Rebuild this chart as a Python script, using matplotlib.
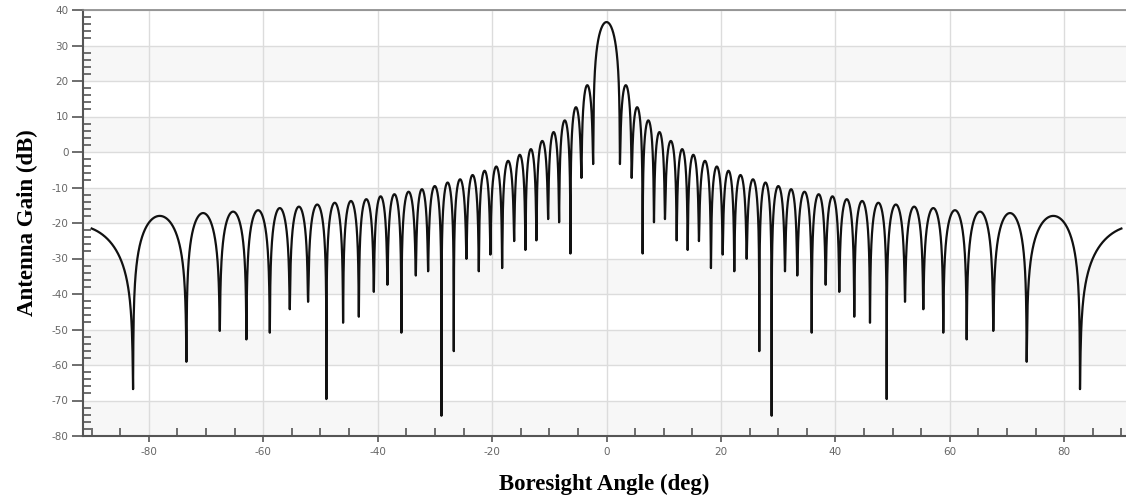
import numpy as np
import matplotlib.pyplot as plt
from matplotlib.ticker import MultipleLocator

plt.rcParams['axes.unicode_minus'] = False

# one-sided pattern (right half); the left half is its mirror image
main_peak = 36.6   # dB at boresight

# null positions (deg) and depths (dB), from boresight outwards
null_deg = [2.34, 4.39, 6.31, 8.29, 10.21, 12.26, 14.18, 16.15, 18.25, 20.30,
            22.33, 24.49, 26.70, 28.86, 31.19, 33.34, 35.86, 38.30, 40.68, 43.30,
            46.05, 48.97, 52.17, 55.37, 58.86, 62.95, 67.60, 73.44, 82.76]
null_db = [-3.4, -7.3, -28.6, -19.8, -18.9, -24.9, -27.6, -25.1, -32.7, -28.9,
           -33.6, -30.1, -56.1, -74.3, -33.6, -34.8, -50.9, -37.4, -39.4, -46.4,
           -48.1, -69.6, -42.2, -44.3, -50.9, -52.8, -50.4, -59.1, -66.8]

# sidelobe peaks (dB), one per gap between consecutive nulls
lobe_db = [18.8, 12.6, 8.9, 5.6, 3.1, 0.8, -0.8, -2.5, -4.1, -5.3,
           -6.5, -7.7, -8.6, -9.6, -10.5, -11.2, -11.9, -12.5, -13.3, -13.8,
           -14.3, -14.8, -15.4, -15.8, -16.4, -16.8, -17.2, -18.0]

# last lobe is cut off by the end of the scan range
edge_lobe_db = -20.7
edge_lobe_end = 102.8   # its far null lies beyond 90 deg


def lobe(a, b, peak, da, db, n=400):
    t = np.linspace(0.0, 1.0, n)
    fa = 10 ** ((da - peak) / 20)
    fb = 10 ** ((db - peak) / 20)
    amp = np.sqrt(np.sin(np.pi * t) ** 2 + ((1 - t) * fa + t * fb) ** 2)
    return a + (b - a) * t, peak + 20 * np.log10(amp)


# right half: main-lobe half, sidelobes, edge lobe
xs, ys = [], []
x, y = lobe(-null_deg[0], null_deg[0], main_peak, null_db[0], null_db[0])
xs.append(x[len(x) // 2:])
ys.append(y[len(y) // 2:])
for i, p in enumerate(lobe_db):
    x, y = lobe(null_deg[i], null_deg[i + 1], p, null_db[i], null_db[i + 1])
    xs.append(x)
    ys.append(y)
x, y = lobe(null_deg[-1], edge_lobe_end, edge_lobe_db, null_db[-1], -60)
keep = x <= 90
xs.append(x[keep])
ys.append(y[keep])

right_x = np.concatenate(xs)
right_y = np.concatenate(ys)
ang = np.concatenate([-right_x[::-1], right_x])
gain = np.concatenate([right_y[::-1], right_y])

fig = plt.figure(figsize=(11.26, 4.97), dpi=100)
ax = fig.add_axes([82.5 / 1126, 61 / 497, (1126 - 82.5) / 1126, 426 / 497])

# alternating horizontal bands
for lo in range(-80, 40, 20):
    ax.axhspan(lo, lo + 10, color='#f7f7f7', zorder=0, lw=0)

ax.plot(ang, gain, color='#111111', lw=1.6, zorder=3)

ax.set_xlim(-91.6, 90.8)
ax.set_ylim(-80, 40)
ax.xaxis.set_major_locator(MultipleLocator(20))
ax.xaxis.set_minor_locator(MultipleLocator(5))
ax.yaxis.set_major_locator(MultipleLocator(10))
ax.yaxis.set_minor_locator(MultipleLocator(2))
ax.grid(True, which='major', color='#dcdcdc', lw=1.0, zorder=1)

ax.tick_params(which='major', direction='out', length=6, width=1.2,
               color='#555555', labelsize=7.5, labelcolor='#666666')
ax.tick_params(which='minor', direction='in', length=6, width=1.2,
               color='#555555')
ax.tick_params(axis='x', which='major', length=4, pad=4)
ax.tick_params(axis='y', which='major', length=8, pad=2)

for side in ['left', 'bottom']:
    ax.spines[side].set_color('#555555')
    ax.spines[side].set_linewidth(1.5)
ax.spines['top'].set_color('#888888')
ax.spines['top'].set_linewidth(1.2)
ax.spines['right'].set_visible(False)

ax.set_xlabel('Boresight Angle (deg)', family='Liberation Serif',
              fontweight='bold', fontsize=16.5, labelpad=12)
ax.set_ylabel('Antenna Gain (dB)', family='Liberation Serif',
              fontweight='bold', fontsize=16.5, labelpad=10)

fig.savefig('out.png', dpi=100)
